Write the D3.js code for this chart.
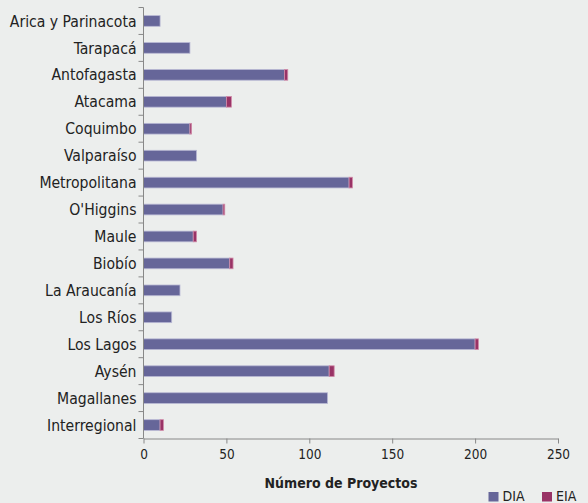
<!DOCTYPE html>
<html><head><meta charset="utf-8">
<script src="https://cdn.jsdelivr.net/npm/d3@7"></script>
<style>
html,body{margin:0;padding:0;background:#eceeed;}
text{font-family:"DejaVu Sans Condensed","DejaVu Sans",sans-serif;fill:#222;}
</style></head>
<body>
<svg id="chart" width="588" height="503"></svg>
<script>
const categories = ["Arica y Parinacota","Tarapacá","Antofagasta","Atacama","Coquimbo","Valparaíso","Metropolitana","O'Higgins","Maule","Biobío","La Araucanía","Los Ríos","Los Lagos","Aysén","Magallanes","Interregional"];
const dia = [10,28,85,50,28,32,124,48,30,52,22,17,200,112,111,10];
const eia = [0,0,2,3,1,0,2,1,2,2,0,0,2,3,0,2];
const seriesNames = ["DIA","EIA"];
const colors = ["#666699","#993366"];
const xTicks = [0,50,100,150,200,250];

const svg = d3.select("#chart");
svg.append("rect").attr("width",588).attr("height",503).attr("fill","#eceeed");
const m = {left:143.5, right:558, top:7.5, bottom:438.5};
const x = d3.scaleLinear().domain([0,250]).range([m.left,m.right]);
const y = d3.scaleBand().domain(categories).range([m.top,m.bottom]).paddingInner(0.6).paddingOuter(0.3);

const data = categories.map((c,i)=>({cat:c, DIA:dia[i], EIA:eia[i]}));
const stack = d3.stack().keys(seriesNames)(data);

const bh = 10.7;
const g = svg.append("g");
stack.forEach((s,si)=>{
  g.selectAll(null).data(s).enter().append("rect")
    .attr("x",d=>x(d[0]))
    .attr("width",d=>Math.max(0,x(d[1])-x(d[0])))
    .attr("y",d=>y(d.data.cat)+y.bandwidth()/2-bh/2)
    .attr("height",bh)
    .attr("fill",colors[si])
    .attr("stroke",si===0?"#b8b8d4":"#d08aa8")
    .attr("stroke-width",0.8)
    .attr("display",d=>d[1]-d[0]>0?null:"none");
});

// Y axis with ticks at band boundaries
const yAxisG = svg.append("g");
yAxisG.append("line").attr("x1",m.left).attr("x2",m.left).attr("y1",m.top).attr("y2",m.bottom).attr("stroke","#888").attr("stroke-width",1);
const bounds = d3.range(categories.length+1).map(i=>m.top + i*(m.bottom-m.top)/categories.length);
yAxisG.selectAll(null).data(bounds).enter().append("line")
  .attr("x1",m.left-5).attr("x2",m.left).attr("y1",d=>d).attr("y2",d=>d).attr("stroke","#888");
yAxisG.selectAll(null).data(categories).enter().append("text")
  .attr("x",m.left-7).attr("y",d=>y(d)+y.bandwidth()/2).attr("dy","0.36em")
  .attr("text-anchor","end").style("font-size","15.6px").text(d=>d);

// X axis
const xAxis = d3.axisBottom(x).tickValues(xTicks).tickSize(5).tickSizeOuter(0);
const xg = svg.append("g").attr("transform",`translate(0,${m.bottom})`).call(xAxis);
xg.select(".domain").attr("stroke","#888");
xg.selectAll(".tick line").attr("stroke","#888");
xg.selectAll(".tick text").attr("y",11).attr("dy","0.71em").style("font-size","13.5px").style("font-family",'"DejaVu Sans Condensed","DejaVu Sans",sans-serif').attr("fill","#222");

svg.append("text").attr("x",341).attr("y",488).attr("text-anchor","middle")
  .style("font-size","14px").style("font-weight","bold").text("Número de Proyectos");

// Legend
const lg = svg.append("g");
const lx = [488.5, 542];
seriesNames.forEach((n,i)=>{
  lg.append("rect").attr("x",lx[i]).attr("y",492).attr("width",10).attr("height",9.5).attr("fill",colors[i]);
  lg.append("text").attr("x",lx[i]+14).attr("y",501).style("font-size","14px").text(n);
});
</script>
</body></html>
